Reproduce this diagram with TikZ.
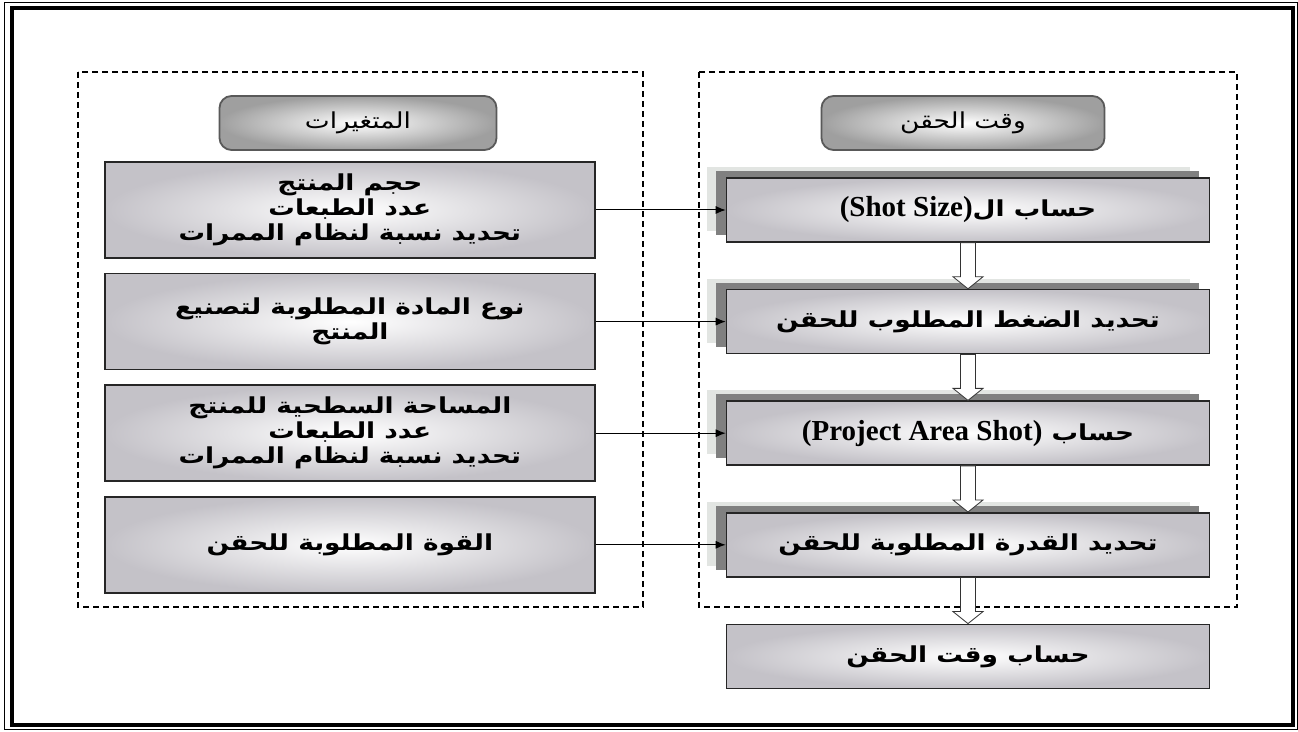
\documentclass[tikz,border=0pt]{standalone}
\usepackage{fontspec}
\usetikzlibrary{arrows.meta,positioning,shadows,calc}
\TeXXeTstate=1
\newfontfamily\arabicfont[Script=Arabic,FakeStretch=1.2]{DejaVu Sans}
\newfontfamily\latinfont{Liberation Serif}
\definecolor{boxgray}{RGB}{196,194,200}
\definecolor{shadelight}{RGB}{226,229,226}
\definecolor{shadedark}{RGB}{128,128,128}
\newcommand{\artext}[1]{\beginR#1\endR}
\newcommand{\lattext}[1]{\beginL{\latinfont\bfseries\fontsize{29}{30}\selectfont #1}\endL}

\begin{document}
\begin{tikzpicture}[
  x=1pt,y=1pt,
  node distance=46pt and 130pt,
  varbox/.style={draw=black!85,line width=1.6pt,minimum width=490pt,minimum height=96pt,inner color=white,outer color=boxgray,align=center,font=\arabicfont\bfseries\fontsize{22}{25}\selectfont},
  stepbox/.style={draw=black!85,line width=1.6pt,minimum width=483pt,minimum height=64pt,inner color=white,outer color=boxgray,align=center,font=\arabicfont\bfseries\fontsize{22}{25}\selectfont},
  shadowed/.style={general shadow={fill=shadelight,shadow xshift=-20pt,shadow yshift=11pt},general shadow={fill=shadedark,shadow xshift=-11pt,shadow yshift=7pt}},
  headbox/.style={draw=black!65,line width=1.8pt,rounded corners=12pt,minimum height=54pt,inner color=white,outer color=gray!75,font=\arabicfont\fontsize{22}{25}\selectfont},
  frame/.style={dash pattern=on 6pt off 4pt,line width=1.2pt},
  arr/.style={-{Latex[length=10pt,width=8pt]},line width=1pt},
  hollow/.style={draw=black!80,fill=white,line width=0.8pt,to path={let \p1=(\tikztostart),\p2=(\tikztotarget) in (\x1-7.5,\y1) -- (\x1-7.5,\y2+12) -- (\x1-15,\y2+12) -- (\x1,\y2) -- (\x1+15,\y2+12) -- (\x1+7.5,\y2+12) -- (\x1+7.5,\y1) -- cycle}}
]
\useasboundingbox (0,0) rectangle (1298,731);
\draw[line width=1pt] (4,2) rectangle (1297,728);
\draw[line width=3.5pt] (12,6) rectangle (1293,723);

\draw[frame] (78,659) rectangle (643,124);
\draw[frame] (699,659) rectangle (1237,124);

\node[headbox,minimum width=277pt] (hv) at (358,608) {\artext{المتغيرات}};
\node[headbox,minimum width=283pt] (ht) at (963,608) {\artext{وقت الحقن}};

\node[stepbox,shadowed] (r1) at (968,521) {\artext{حساب ال\lattext{(Shot Size)}}};
\node[stepbox,shadowed,below=of r1] (r2) {\artext{تحديد الضغط المطلوب للحقن}};
\node[stepbox,shadowed,below=of r2] (r3) {\artext{حساب \lattext{(Project Area Shot)}}};
\node[stepbox,shadowed,below=of r3] (r4) {\artext{تحديد القدرة المطلوبة للحقن}};
\node[stepbox,below=of r4] (rt) {\artext{حساب وقت الحقن}};

\node[varbox,left=of r1] (v1) {\artext{حجم المنتج}\\\artext{عدد الطبعات}\\\artext{تحديد نسبة لنظام الممرات}};
\node[varbox,left=of r2] (v2) {\artext{نوع المادة المطلوبة لتصنيع}\\\artext{المنتج}};
\node[varbox,left=of r3] (v3) {\artext{المساحة السطحية للمنتج}\\\artext{عدد الطبعات}\\\artext{تحديد نسبة لنظام الممرات}};
\node[varbox,left=of r4] (v4) {\artext{القوة المطلوبة للحقن}};

\draw[arr] (v1) -- (r1);
\draw[arr] (v2) -- (r2);
\draw[arr] (v3) -- (r3);
\draw[arr] (v4) -- (r4);

\draw[hollow] (r1.south) to (r2.north);
\draw[hollow] (r2.south) to (r3.north);
\draw[hollow] (r3.south) to (r4.north);
\draw[hollow] (r4.south) to (rt.north);
\end{tikzpicture}
\end{document}
